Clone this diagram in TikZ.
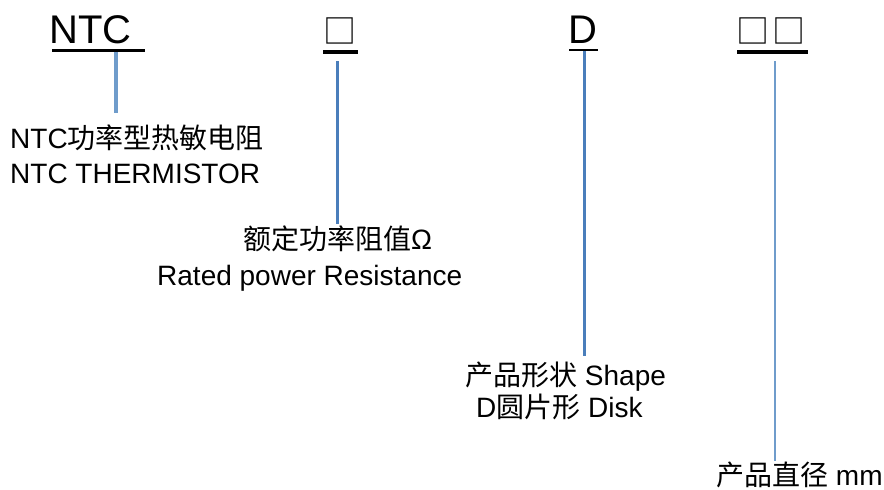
\documentclass[tikz,border=0pt]{standalone}
\usepackage{fontspec}
\setmainfont{Liberation Sans}
\newfontfamily\cjk{Noto Sans CJK SC}
\definecolor{leadblue}{HTML}{4A7EBB}
\definecolor{leadpale}{HTML}{6F9CCB}
\tikzset{
  head/.style={font=\fontsize{40}{42}\selectfont, inner sep=0pt, anchor=base west},
  box/.style={font=\cjk\fontsize{33}{35}\selectfont, inner sep=0pt, anchor=base west},
  desc/.style={font=\fontsize{28}{33}\selectfont, inner sep=0pt, anchor=base west},
  bar/.style={line width=3pt},
  lead/.style={line width=3pt, draw=leadblue},
}
\newcommand{\zh}[1]{{\cjk #1}}
\begin{document}
\begin{tikzpicture}[x=1pt,y=-1pt]
\useasboundingbox (0,0) rectangle (884,490);
% code
\node[head] (ntc) at (49,43) {NTC};
\node[box] (ohm) at (323.5,43.5) {□};
\node[head] (shp) at (568,43) {D};
\node[box] (dia) at (736.5,43.5) {□\hspace{3pt}□};
\draw[bar] (52,50) -- (145,50);
\draw[bar, line width=4pt] (323,52) -- (358,52);
\draw[bar, line width=2.5pt] (569,50) -- (598,50);
\draw[bar, line width=4pt] (737,52) -- (808,52);
% descriptions
\node[desc] (ntc-zh) at (10,148) {NTC\zh{功率型热敏电阻}};
\node[desc] (ntc-en) at (10,183) {NTC THERMISTOR};
\node[desc] (ohm-zh) at (243,249) {\zh{额定功率阻值}Ω};
\node[desc] (ohm-en) at (157,285) {Rated power Resistance};
\node[desc] (shp-zh) at (465,385) {\zh{产品形状} Shape};
\node[desc] (shp-en) at (476,417) {D\zh{圆片形} Disk};
\node[desc] (dia-zh) at (716,485) {\zh{产品直径} mm};
% leads
\coordinate (ntc-a) at (116,52);
\coordinate (ntc-b) at (116,113);
\coordinate (ohm-a) at (337.5,61);
\coordinate (ohm-b) at (337.5,224);
\coordinate (shp-a) at (584.5,51);
\coordinate (shp-b) at (584.5,356);
\coordinate (dia-a) at (775.3,61);
\coordinate (dia-b) at (775.3,461);
\draw[lead, draw=leadpale, line width=4pt] (ntc-a) -- (ntc-b);
\draw[lead] (ohm-a) -- (ohm-b);
\draw[lead, line width=2.5pt] (shp-a) -- (shp-b);
\draw[lead, draw=leadpale, line width=2pt] (dia-a) -- (dia-b);
\end{tikzpicture}
\end{document}
